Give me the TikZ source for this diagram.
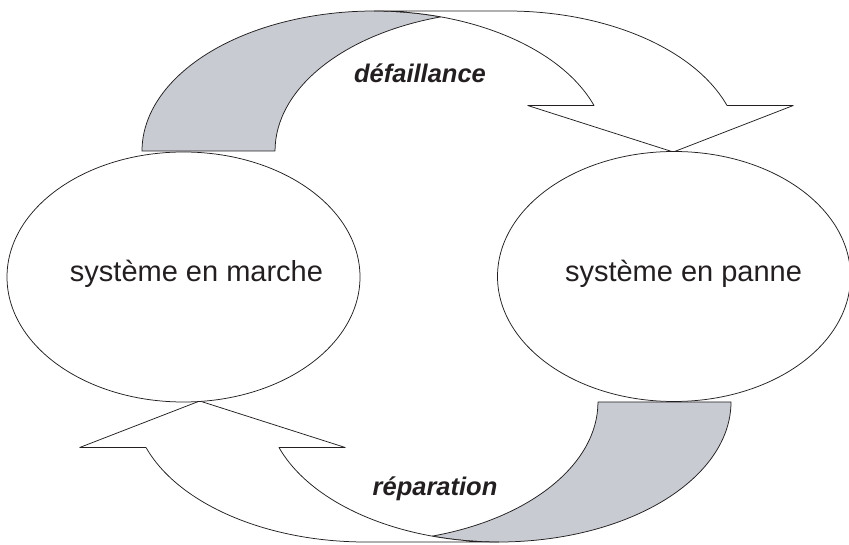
\documentclass[tikz,border=0pt]{standalone}
\usepackage{fontspec}
\setmainfont{Liberation Sans}
\usetikzlibrary{shapes.geometric,calc}
\definecolor{backface}{RGB}{200,203,210}
\definecolor{ink}{RGB}{35,31,32}
\tikzset{
  outline/.style={draw=ink, line width=0.75pt, line join=round},
  state/.style={ellipse, outline, fill=white, minimum width=353pt, minimum height=250pt, inner sep=0pt},
  statetext/.style={anchor=base, text=ink, font=\fontsize{29}{34}\selectfont},
  flowtext/.style={anchor=base, text=ink, font=\fontsize{25.5}{30}\selectfont\bfseries\itshape},
  rim/.style={x radius=232.3, y radius=140}
}
% one curved block arrow: shaded back face, then the white front face with its head
\newcommand{\curvedblockarrow}{%
  \path[outline, fill=backface] (142,393)
    arc[rim, start angle=180, end angle=73.36]
    arc[rim, start angle=106.64, end angle=180] -- cycle;
  \path[outline, fill=white] (374.3,533) -- (507.3,533)
    arc[rim, start angle=90, end angle=18.97]
    -- (793.3,438.5) -- (673.3,392) -- (527.7,438.5) -- (594,438.5)
    arc[rim, start angle=18.97, end angle=90] -- cycle;
}
\begin{document}
\begin{tikzpicture}[x=1pt, y=1pt]
  \useasboundingbox (0,0) rectangle (849,544);
  % failure arrow on top
  \curvedblockarrow
  % repair arrow, the same shape turned half a turn
  \begin{scope}[rotate around={180:(436.5,267.5)}]
    \curvedblockarrow
  \end{scope}
  % the two states
  \node[state] (marche) at (183.5,267) {};
  \node[state] (panne) at (674,267.5) {};
  \node[statetext] (tmarche) at ($(marche.center)+(13,-5)$) {système en marche};
  \node[statetext] (tpanne) at ($(panne.center)+(9.5,-5.5)$) {système en panne};
  % transition labels
  \node[flowtext] (tdef) at (420,461) {défaillance};
  \node[flowtext] (trep) at (435,49) {réparation};
\end{tikzpicture}
\end{document}
